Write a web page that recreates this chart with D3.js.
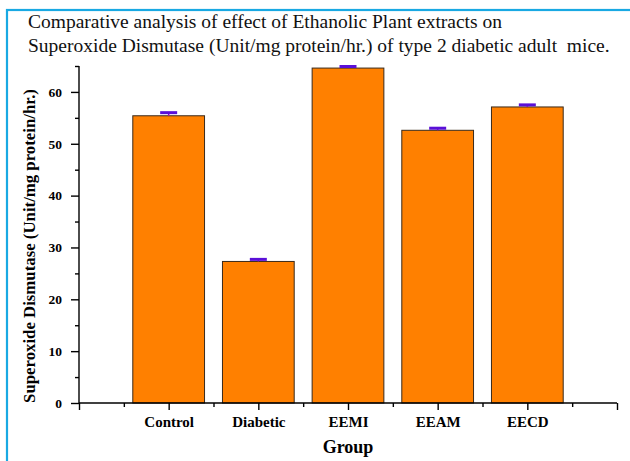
<!DOCTYPE html>
<html>
<head>
<meta charset="utf-8">
<script src="https://cdn.jsdelivr.net/npm/d3@7"></script>
<style>
  html, body { margin: 0; padding: 0; background: #fff; }
  svg { display: block; }
</style>
</head>
<body>
<script>
// Superoxide dismutase activity per group (mean and error)
const groups = ["Control", "Diabetic", "EEMI", "EEAM", "EECD"];
const sodMeans = [55.4, 27.3, 64.6, 52.6, 57.1];
const sodErrors = [0.6, 0.4, 0.3, 0.4, 0.4];
const yTicks = [0, 10, 20, 30, 40, 50, 60];
const titleLines = [
  "Comparative analysis of effect of Ethanolic Plant extracts on",
  "Superoxide Dismutase (Unit/mg protein/hr.) of type 2 diabetic adult  mice."
];

const SERIF = "'Liberation Serif', 'Times New Roman', serif";
const W = 630, H = 461;
const svg = d3.select("body").append("svg").attr("width", W).attr("height", H);

// light-blue frame around the figure
svg.append("rect")
  .attr("x", 7).attr("y", 10).attr("width", W + 20).attr("height", H + 20)
  .attr("fill", "none").attr("stroke", "#19a9e3").attr("stroke-width", 2.2);

// title, sized so the longer line spans the figure width
const titles = svg.selectAll("text.title").data(titleLines).enter().append("text")
  .attr("class", "title")
  .attr("x", 28).attr("y", (d, i) => 28 + i * 24)
  .attr("font-family", SERIF)
  .attr("font-size", 17.5).attr("fill", "#111")
  .style("white-space", "pre")
  .attr("xml:space", "preserve")
  .text(d => d);
const longest = d3.max(titles.nodes(), n => n.getComputedTextLength());
titles.attr("font-size", 17.5 * 582 / longest);

const plot = { left: 79, right: 617, top: 66, bottom: 403 };

const x = d3.scaleLinear().domain([0, 6]).range([plot.left, plot.right]);
const y = d3.scaleLinear().domain([0, 65]).range([plot.bottom, plot.top]);

const data = groups.map((g, i) => ({ g, pos: i + 1, v: sodMeans[i], e: sodErrors[i] }));
const barW = x(0.8) - x(0);

// bars
svg.append("g").selectAll("rect").data(data).enter().append("rect")
  .attr("x", d => x(d.pos) - barW / 2)
  .attr("y", d => y(d.v))
  .attr("width", barW)
  .attr("height", d => y(0) - y(d.v))
  .attr("fill", "#ff8000")
  .attr("stroke", "#3a2a1a").attr("stroke-width", 1);

// error bars (upper)
const eb = svg.append("g").selectAll("g").data(data).enter().append("g");
eb.append("line")
  .attr("x1", d => x(d.pos)).attr("x2", d => x(d.pos))
  .attr("y1", d => y(d.v)).attr("y2", d => y(d.v + d.e))
  .attr("stroke", "#a000c8").attr("stroke-width", 1.5);
eb.append("line")
  .attr("x1", d => x(d.pos) - 8.5).attr("x2", d => x(d.pos) + 8.5)
  .attr("y1", d => y(d.v + d.e)).attr("y2", d => y(d.v + d.e))
  .attr("stroke", "#5a10d8").attr("stroke-width", 3);

// y axis: major ticks every 10, minor every 5
const yAxisMinor = d3.axisLeft(y).tickValues(d3.range(5, 66, 10)).tickSize(4).tickFormat("");
const yAxisMajor = d3.axisLeft(y).tickValues(yTicks).tickSize(8).tickPadding(9);
const gyMinor = svg.append("g").attr("transform", `translate(${plot.left},0)`).call(yAxisMinor);
gyMinor.select(".domain").remove();
const gy = svg.append("g").attr("transform", `translate(${plot.left},0)`).call(yAxisMajor);
gy.select(".domain").attr("d", `M0,${plot.top}V${plot.bottom}`);
gy.attr("font-family", SERIF);
gy.selectAll("text").attr("font-size", 13.5).attr("font-weight", "bold").attr("fill", "#000");

// x axis: group labels at integer positions, minor ticks at halves
const xAxisMinor = d3.axisBottom(x).tickValues(d3.range(0.5, 6, 1)).tickSize(4).tickFormat("");
const xAxisMajor = d3.axisBottom(x).tickValues([0, 1, 2, 3, 4, 5, 6]).tickSize(7).tickPadding(6)
  .tickFormat(d => groups[d - 1] || "");
const gxMinor = svg.append("g").attr("transform", `translate(0,${plot.bottom})`).call(xAxisMinor);
gxMinor.select(".domain").remove();
const gx = svg.append("g").attr("transform", `translate(0,${plot.bottom})`).call(xAxisMajor);
gx.select(".domain").attr("d", `M${plot.left},0H${plot.right}`);
gx.attr("font-family", SERIF);
gx.selectAll("text").attr("font-size", 15).attr("font-weight", "bold").attr("fill", "#000");

svg.selectAll(".domain, .tick line").attr("stroke", "#000").attr("stroke-width", 1.4);

// axis titles
svg.append("text")
  .attr("x", 348).attr("y", 453)
  .attr("text-anchor", "middle")
  .attr("font-family", SERIF)
  .attr("font-size", 18).attr("font-weight", "bold")
  .text("Group");

svg.append("text")
  .attr("transform", `translate(35,246) rotate(-90)`)
  .attr("text-anchor", "middle")
  .attr("font-family", SERIF)
  .attr("font-size", 16.8).attr("font-weight", "bold")
  .text("Superoxide Dismutase (Unit/mg protein/hr.)");
</script>
</body>
</html>
